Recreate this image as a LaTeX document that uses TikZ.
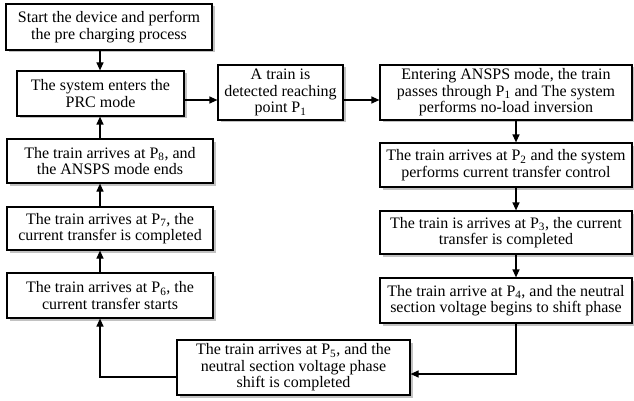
\documentclass[tikz,border=0pt]{standalone}
\usepackage{fontspec}
\setmainfont{Liberation Serif}
\usetikzlibrary{arrows.meta,shadows}
\begin{document}
\begin{tikzpicture}[x=1pt,y=-1pt,
  box/.style={draw=black,line width=1.2pt,fill=white,align=center,inner sep=0pt,
    font=\fontsize{16}{16.6}\selectfont,
    drop shadow={shadow xshift=2.5pt,shadow yshift=-2.5pt,fill=black!60,opacity=0.4}},
  arr/.style={line width=1.2pt,-{Triangle[length=8pt,width=7pt]}}]
\useasboundingbox (0,0) rectangle (634,401);
\node[box,minimum width=206pt,minimum height=46pt] (start) at (109,27) {Start the device and perform\\the pre charging process};
\node[box,minimum width=167pt,minimum height=45pt] (prc) at (100.5,93.5) {The system enters the\\PRC mode};
\node[box,minimum width=125pt,minimum height=55pt] (atrain) at (280.5,92.5) {A train is\\detected reaching\\point P\textsubscript{1}};
\node[box,minimum width=252pt,minimum height=55pt] (ansps) at (506,92.5) {Entering ANSPS mode, the train\\passes through P\textsubscript{1} and The system\\performs no-load inversion};
\node[box,minimum width=252pt,minimum height=44pt] (p2) at (506,165) {The train arrives at P\textsubscript{2} and the system\\performs current transfer control};
\node[box,minimum width=252pt,minimum height=43pt] (p3) at (506,232.5) {The train is arrives at P\textsubscript{3}, the current\\transfer is completed};
\node[box,minimum width=252pt,minimum height=45pt] (p4) at (506,300.5) {The train arrive at P\textsubscript{4}, and the neutral\\section voltage begins to shift phase};
\node[box,minimum width=233pt,minimum height=55pt] (p5) at (293.5,367.5) {The train arrives at P\textsubscript{5}, and the\\neutral section voltage phase\\shift is completed};
\node[box,minimum width=206pt,minimum height=45pt] (p6) at (110,295.5) {The train arrives at P\textsubscript{6}, the\\current transfer starts};
\node[box,minimum width=206pt,minimum height=43pt] (p7) at (110,228.5) {The train arrives at P\textsubscript{7}, the\\current transfer is completed};
\node[box,minimum width=206pt,minimum height=44pt] (p8) at (110,161) {The train arrives at P\textsubscript{8}, and\\the ANSPS mode ends};
\coordinate (xL) at (100,0);
\coordinate (xR) at (516,0);
\coordinate (yA) at (0,100);
\coordinate (yB) at (0,377);
\coordinate (yC) at (0,374);
\draw[arr] (start.south -| xL) -- (prc.north -| xL);
\draw[arr] (p8.north -| xL) -- (prc.south -| xL);
\draw[arr] (p7.north -| xL) -- (p8.south -| xL);
\draw[arr] (p6.north -| xL) -- (p7.south -| xL);
\draw[arr] (p5.west |- yB) -| (p6.south -| xL);
\draw[arr] (prc.east |- yA) -- (atrain.west |- yA);
\draw[arr] (atrain.east |- yA) -- (ansps.west |- yA);
\draw[arr] (ansps.south -| xR) -- (p2.north -| xR);
\draw[arr] (p2.south -| xR) -- (p3.north -| xR);
\draw[arr] (p3.south -| xR) -- (p4.north -| xR);
\draw[arr] (p4.south -| xR) |- (p5.east |- yC);
\end{tikzpicture}
\end{document}
